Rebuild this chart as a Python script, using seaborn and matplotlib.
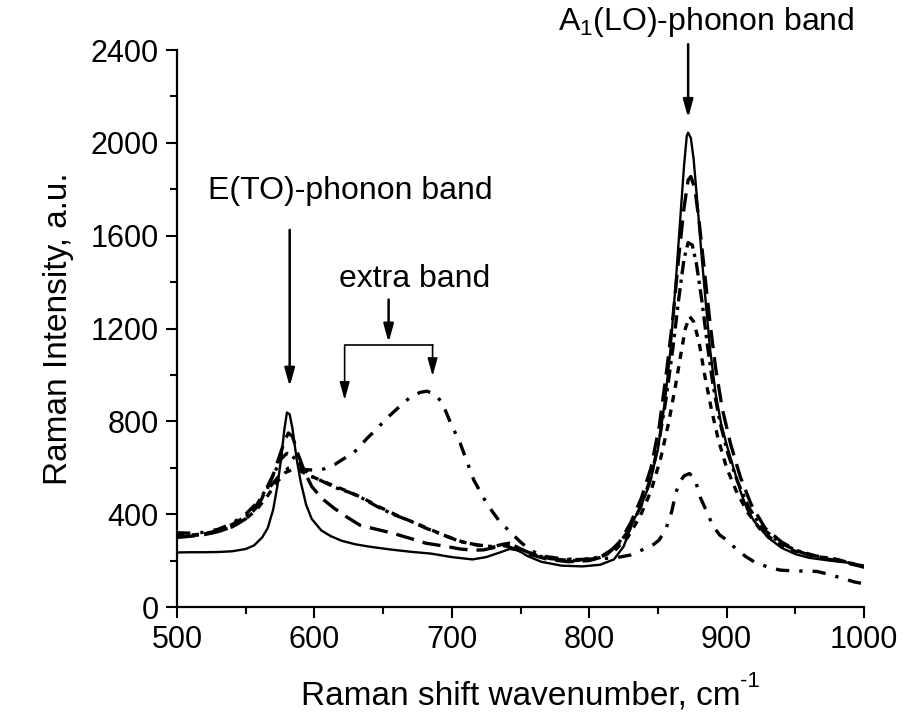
import numpy as np
import pandas as pd
import matplotlib
matplotlib.use("Agg")
import matplotlib.pyplot as plt
import seaborn as sns

# Raman spectra (wavenumber, intensity)
w_solid = [500, 510, 520, 530, 540, 550, 556, 562, 566, 570, 573, 576, 578, 580, 582, 584, 587, 590,
           594, 598, 605, 612, 620, 630, 640, 655, 670, 685, 700, 715, 725, 735, 742, 748, 755, 765,
           780, 795, 808, 818, 825, 832, 838, 844, 850, 855, 859, 863, 866, 869, 871, 872, 874, 876,
           879, 882, 885, 888, 892, 896, 900, 905, 910, 915, 920, 930, 940, 950, 960, 975, 990, 1000]
i_solid = [235, 236, 236, 237, 240, 250, 265, 300, 340, 420, 520, 650, 760, 838, 830, 770, 640, 540,
           440, 380, 330, 305, 285, 270, 260, 248, 238, 230, 215, 205, 215, 235, 250, 245, 220, 195,
           178, 175, 182, 205, 260, 370, 440, 530, 680, 880, 1100, 1400, 1650, 1900, 2030, 2044, 2020, 1930,
           1720, 1500, 1300, 1110, 920, 790, 700, 600, 500, 420, 370, 300, 255, 228, 212, 200, 190, 178]

w_dash = [500, 510, 520, 530, 540, 550, 558, 565, 570, 574, 578, 581, 584, 588, 593, 598, 605, 614,
          623, 633, 645, 657, 670, 681, 695, 706, 715, 723, 730, 735, 740, 748, 758, 770, 785, 800,
          812, 822, 830, 838, 845, 851, 856, 861, 865, 869, 872, 874, 877, 880, 884, 888, 892, 897,
          903, 910, 918, 928, 940, 952, 965, 980, 1000]
i_dash = [303, 305, 312, 325, 345, 380, 430, 500, 570, 640, 710, 750, 735, 660, 580, 520, 470, 427,
          390, 353, 335, 318, 295, 275, 262, 250, 245, 246, 255, 267, 262, 245, 225, 205, 195, 200,
          220, 280, 360, 470, 600, 780, 1000, 1250, 1500, 1720, 1840, 1855, 1800, 1660, 1440, 1220, 1030, 850,
          700, 560, 440, 340, 280, 240, 215, 200, 172]

w_dashdot = [500, 510, 520, 530, 540, 550, 558, 565, 571, 576, 580, 584, 590, 597, 604, 615, 625, 633,
             645, 657, 670, 681, 694, 706, 718, 730, 737, 742, 750, 760, 770, 780, 795, 808, 820, 830,
             838, 845, 851, 856, 861, 865, 869, 872, 875, 878, 882, 886, 890, 895, 901, 908, 916, 926,
             938, 950, 965, 980, 1000]
i_dashdot = [300, 305, 315, 330, 355, 390, 440, 510, 580, 640, 662, 650, 610, 565, 547, 515, 495, 475,
             435, 400, 370, 340, 310, 282, 268, 260, 270, 275, 250, 225, 210, 203, 205, 215, 260, 340,
             440, 560, 720, 900, 1120, 1320, 1500, 1570, 1560, 1480, 1320, 1130, 960, 800, 660, 540, 430, 340,
             280, 245, 220, 205, 175]

w_dot = [500, 510, 520, 530, 540, 550, 558, 566, 573, 579, 584, 590, 597, 605, 615, 625, 635, 647,
         660, 672, 684, 696, 708, 720, 730, 738, 743, 752, 762, 775, 790, 805, 818, 828, 837, 845,
         852, 858, 863, 867, 870, 873, 876, 880, 884, 889, 894, 900, 907, 915, 925, 937, 950, 965,
         980, 1000]
i_dot = [310, 310, 315, 325, 345, 380, 420, 480, 540, 580, 592, 585, 565, 545, 520, 497, 470, 432,
         395, 365, 335, 305, 280, 265, 258, 268, 270, 245, 222, 205, 200, 208, 240, 300, 390, 500,
         640, 800, 960, 1100, 1200, 1252, 1230, 1140, 1000, 850, 720, 600, 500, 410, 330, 275, 240, 218,
         205, 172]

w_extra = [500, 510, 520, 530, 540, 550, 560, 568, 575, 581, 587, 593, 600, 607, 615, 623, 631, 638,
           645, 653, 662, 670, 677, 682, 688, 693, 699, 706, 716, 726, 734, 743, 750, 757, 763, 769,
           780, 795, 810, 822, 830, 840, 847, 851, 856, 860, 863, 866, 869, 873, 877, 881, 885, 890,
           895, 900, 907, 914, 920, 930, 939, 950, 960, 966, 975, 985, 993, 1000]
i_extra = [320, 318, 322, 335, 360, 400, 460, 520, 570, 598, 600, 592, 590, 595, 615, 645, 677, 725,
           765, 815, 864, 905, 925, 930, 915, 880, 795, 707, 547, 440, 375, 320, 280, 246, 228, 217,
           208, 203, 208, 215, 224, 250, 270, 289, 340, 410, 491, 540, 565, 575, 550, 470, 418, 350,
           310, 289, 250, 217, 195, 172, 159, 155, 155, 153, 140, 122, 108, 100]

series = {"s1": (w_solid, i_solid), "s2": (w_dash, i_dash), "s3": (w_dashdot, i_dashdot),
          "s4": (w_dot, i_dot), "s5": (w_extra, i_extra)}
df = pd.concat([pd.DataFrame({"w": w, "I": i, "sample": k}) for k, (w, i) in series.items()])

sns.set_theme(style="ticks")
plt.rcParams["font.family"] = ["Liberation Sans", "DejaVu Sans"]
plt.rcParams["mathtext.fontset"] = "custom"
plt.rcParams["mathtext.rm"] = "Liberation Sans"
plt.rcParams["mathtext.it"] = "Liberation Sans:italic"
plt.rcParams["text.color"] = "black"
plt.rcParams["axes.labelcolor"] = "black"

fig = plt.figure(figsize=(9.05, 7.24), dpi=100)
ax = fig.add_axes([0.1956, 0.1616, 0.7591, 0.7693])

dashes = {"s1": "", "s2": (5.5, 2.7), "s3": (4, 1.6, 1, 1.6), "s4": (2.2, 2.2), "s5": (4, 3, 1, 3)}
sizes = {"s1": 1.7, "s2": 2.4, "s3": 2.4, "s4": 2.4, "s5": 2.4}
sns.lineplot(data=df, x="w", y="I", style="sample", dashes=dashes, size="sample", sizes=sizes,
             color="black", estimator=None, sort=False, legend=False, ax=ax)

ax.set_xlim(500, 1000)
ax.set_ylim(0, 2400)
ax.set_xticks(np.arange(500, 1001, 100))
ax.set_xticks(np.arange(550, 1000, 100), minor=True)
ax.set_yticks(np.arange(0, 2401, 400))
ax.set_yticks(np.arange(200, 2400, 400), minor=True)
ax.tick_params(which="major", length=8, width=1.5, labelsize=22, pad=5,
               color="black", labelcolor="black")
ax.tick_params(which="minor", length=5, width=1.5, color="black")
for s in ["left", "bottom"]:
    ax.spines[s].set_linewidth(1.6)
    ax.spines[s].set_color("black")
sns.despine(ax=ax)

ax.set_xlabel("Raman shift wavenumber, cm", fontsize=24, labelpad=18)
ax.set_ylabel("Raman Intensity, a.u.", fontsize=24, labelpad=12)
ax.annotate("-1", xy=(1.0, 0.95), xycoords=ax.xaxis.label, ha="left", va="center", fontsize=16)

arrow = dict(arrowstyle="-|>,head_length=0.9,head_width=0.25", lw=1.8, color="black",
             shrinkA=0, shrinkB=0)
ax.annotate("", xy=(872, 2108), xytext=(872, 2425), arrowprops=arrow, annotation_clip=False)
ax.text(885, 2522, "A$_1$(LO)-phonon band", ha="center", va="center", fontsize=23, clip_on=False)

ax.annotate("", xy=(582, 950), xytext=(582, 1625), arrowprops=arrow)
ax.text(626, 1792, "E(TO)-phonon band", ha="center", va="center", fontsize=23)

ax.text(673, 1415, "extra band", ha="center", va="center", fontsize=23)
ax.annotate("", xy=(654, 1140), xytext=(654, 1325), arrowprops=arrow)
ax.plot([622, 686], [1128, 1128], color="black", lw=1.2)
thin = dict(arrow, lw=1.2)
ax.annotate("", xy=(622, 892), xytext=(622, 1128), arrowprops=thin)
ax.annotate("", xy=(686, 995), xytext=(686, 1128), arrowprops=thin)

fig.savefig("out.png", dpi=100)
